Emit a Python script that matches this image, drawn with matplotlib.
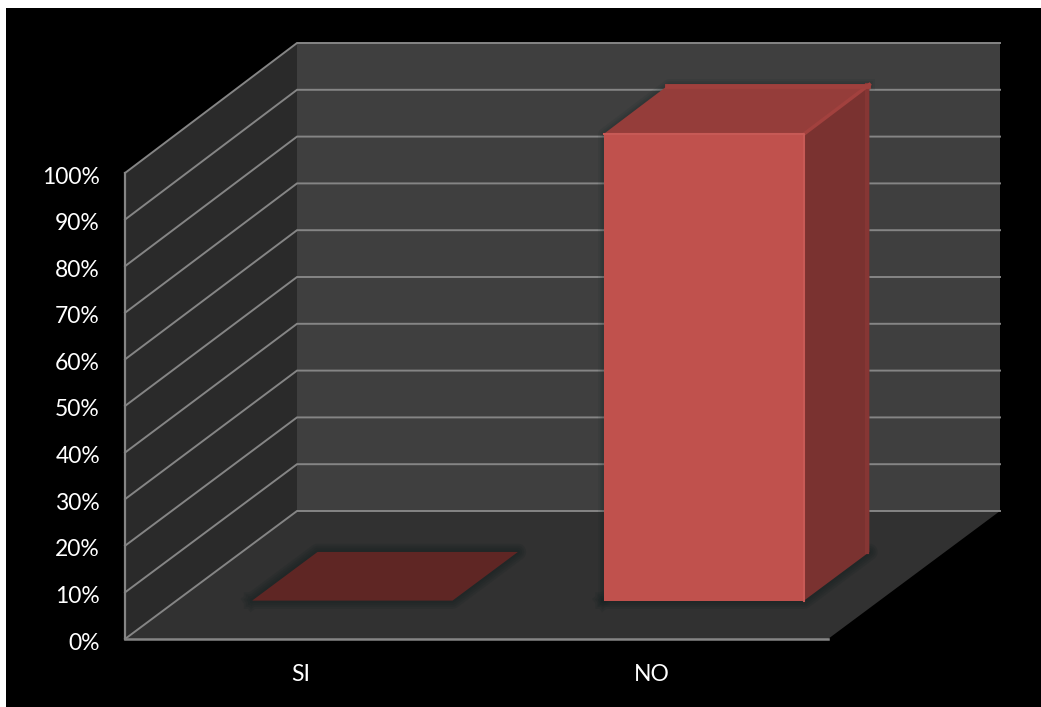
import matplotlib
matplotlib.use('Agg')
import matplotlib.pyplot as plt
from matplotlib.patches import Polygon, Rectangle
from matplotlib.transforms import Affine2D

categories = ['SI', 'NO']
values = [0, 100]
percent_ticks = [0, 10, 20, 30, 40, 50, 60, 70, 80, 90, 100]

# oblique depth vector of the whole chart box, in axis units
DEPTH_X = 172 / 351.5
DEPTH_Y = 128 / 4.66
# the far end of the box is drawn very slightly taller
PERSPECTIVE = 2 / 466
BAR_WIDTH = 0.57
BAR_NEAR = 0.30
BAR_FAR = 0.68

plt.rcParams['font.family'] = ['Lato', 'DejaVu Sans']

fig = plt.figure(figsize=(10.41, 7.07), dpi=100, facecolor='white')
fig.add_artist(Rectangle((6 / 1041, 0), 1 - 6 / 1041, 1 - 8 / 707, zorder=-1,
                         transform=fig.transFigure, facecolor='black', edgecolor='none'))

ax = fig.add_axes([125 / 1041, (707 - 639) / 707, 703 / 1041, 466 / 707])
ax.set_xlim(0, len(categories))
ax.set_ylim(0, 100)
ax.patch.set_visible(False)
for s in ax.spines.values():
    s.set_visible(False)


def pt(x, v, d=0.0):
    # axis position pushed back along the depth direction
    return (x + d * DEPTH_X, v * (1 + d * PERSPECTIVE) + d * DEPTH_Y)


def face(points, color, z=1, **kw):
    kw.setdefault('edgecolor', 'none')
    ax.add_patch(Polygon(points, closed=True, facecolor=color, clip_on=False, zorder=z, **kw))


def soft_shadow(points, z, widths, alpha):
    # stacked wide strokes give a blurred dark halo
    xs, ys = zip(*(points + points[:1]))
    for lw in widths:
        ax.plot(xs, ys, color='#0c1c1c', lw=lw, alpha=alpha, clip_on=False,
                zorder=z, solid_joinstyle='round')


xmax = len(categories)
grid_color = '#858585'

# side wall, back wall, floor
face([pt(0, 0), pt(0, 100), pt(0, 100, 1), pt(0, 0, 1)], '#2a2a2a')
face([pt(0, 0, 1), pt(0, 100, 1), pt(xmax, 100, 1), pt(xmax, 0, 1)], '#3f3f3f')
face([pt(0, 0), pt(xmax, 0), pt(xmax, 0, 1), pt(0, 0, 1)], '#313131')

# gridlines run along the side wall and across the back wall
for t in percent_ticks:
    px = [pt(0, t), pt(0, t, 1), pt(xmax, t, 1)]
    ax.plot(*zip(*px), color=grid_color, lw=1.4, clip_on=False, zorder=2,
            solid_joinstyle='miter')
ax.plot(*zip(pt(0, 0), pt(0, 100)), color=grid_color, lw=1.6, clip_on=False, zorder=2)
ax.plot(*zip(pt(0, 0), pt(xmax, 0)), color=grid_color, lw=1.8, clip_on=False, zorder=2)

# bars
for i, (name, val) in enumerate(zip(categories, values)):
    x0 = i + 0.5 - BAR_WIDTH / 2
    x1 = i + 0.5 + BAR_WIDTH / 2
    base = [pt(x0, 0, BAR_NEAR), pt(x1, 0, BAR_NEAR), pt(x1, 0, BAR_FAR), pt(x0, 0, BAR_FAR)]
    soft_shadow(base, 3, [12, 9, 6, 3], 0.12)
    if val == 0:
        face(base, '#5f2624', z=4)
        continue
    outline = [pt(x0, 0, BAR_NEAR), pt(x0, val, BAR_NEAR), pt(x0, val, BAR_FAR), pt(x1, val, BAR_FAR)]
    xs, ys = zip(*outline)
    for lw in [8, 5, 2.5]:
        ax.plot(xs, ys, color='#0c2020', lw=lw, alpha=0.09, clip_on=False, zorder=3)
    # right side, top, then the front on top of them
    face([pt(x1, 0, BAR_NEAR), pt(x1, 0, BAR_FAR), pt(x1, val, BAR_FAR), pt(x1, val, BAR_NEAR)],
         '#7a3230', z=4)
    ax.plot(*zip(pt(x1 - 0.006, 0, BAR_FAR), pt(x1 - 0.006, val, BAR_FAR)),
            color='#863634', lw=3, clip_on=False, zorder=4.5)
    face([pt(x0, val, BAR_NEAR), pt(x1, val, BAR_NEAR), pt(x1, val, BAR_FAR), pt(x0, val, BAR_FAR)],
         '#953d3a', z=4)
    ax.plot(*zip(pt(x1, val, BAR_NEAR), pt(x1, val, BAR_FAR)),
            color='#a2413e', lw=2.5, clip_on=False, zorder=4.5)
    ax.plot(*zip(pt(x0, val, BAR_FAR - 0.01), pt(x1, val, BAR_FAR - 0.01)),
            color='#9f403d', lw=3.5, clip_on=False, zorder=4.5)
    face([pt(x0, 0, BAR_NEAR), pt(x1, 0, BAR_NEAR), pt(x1, val, BAR_NEAR), pt(x0, val, BAR_NEAR)],
         '#c0514d', z=5, linewidth=1.5)
    ax.plot(*zip(pt(x0, val, BAR_NEAR), pt(x1, val, BAR_NEAR), pt(x1, 0, BAR_NEAR)),
            color='#c75a56', lw=1.5, clip_on=False, zorder=5.5)

# ticks
ax.set_yticks(percent_ticks)
ax.set_yticklabels(['%d%%' % t for t in percent_ticks])
ax.set_xticks([i + 0.5 for i in range(len(categories))])
ax.set_xticklabels(categories)
ax.tick_params(axis='y', length=0, pad=18, labelsize=16.5, labelcolor='white')
ax.tick_params(axis='x', length=0, pad=18, labelsize=16.5, labelcolor='white')
# nudge the percent labels down a little
for lab in ax.get_yticklabels():
    lab.set_transform(lab.get_transform() + Affine2D().translate(0, -2))

fig.savefig('out.png', dpi=100, facecolor=fig.get_facecolor())
